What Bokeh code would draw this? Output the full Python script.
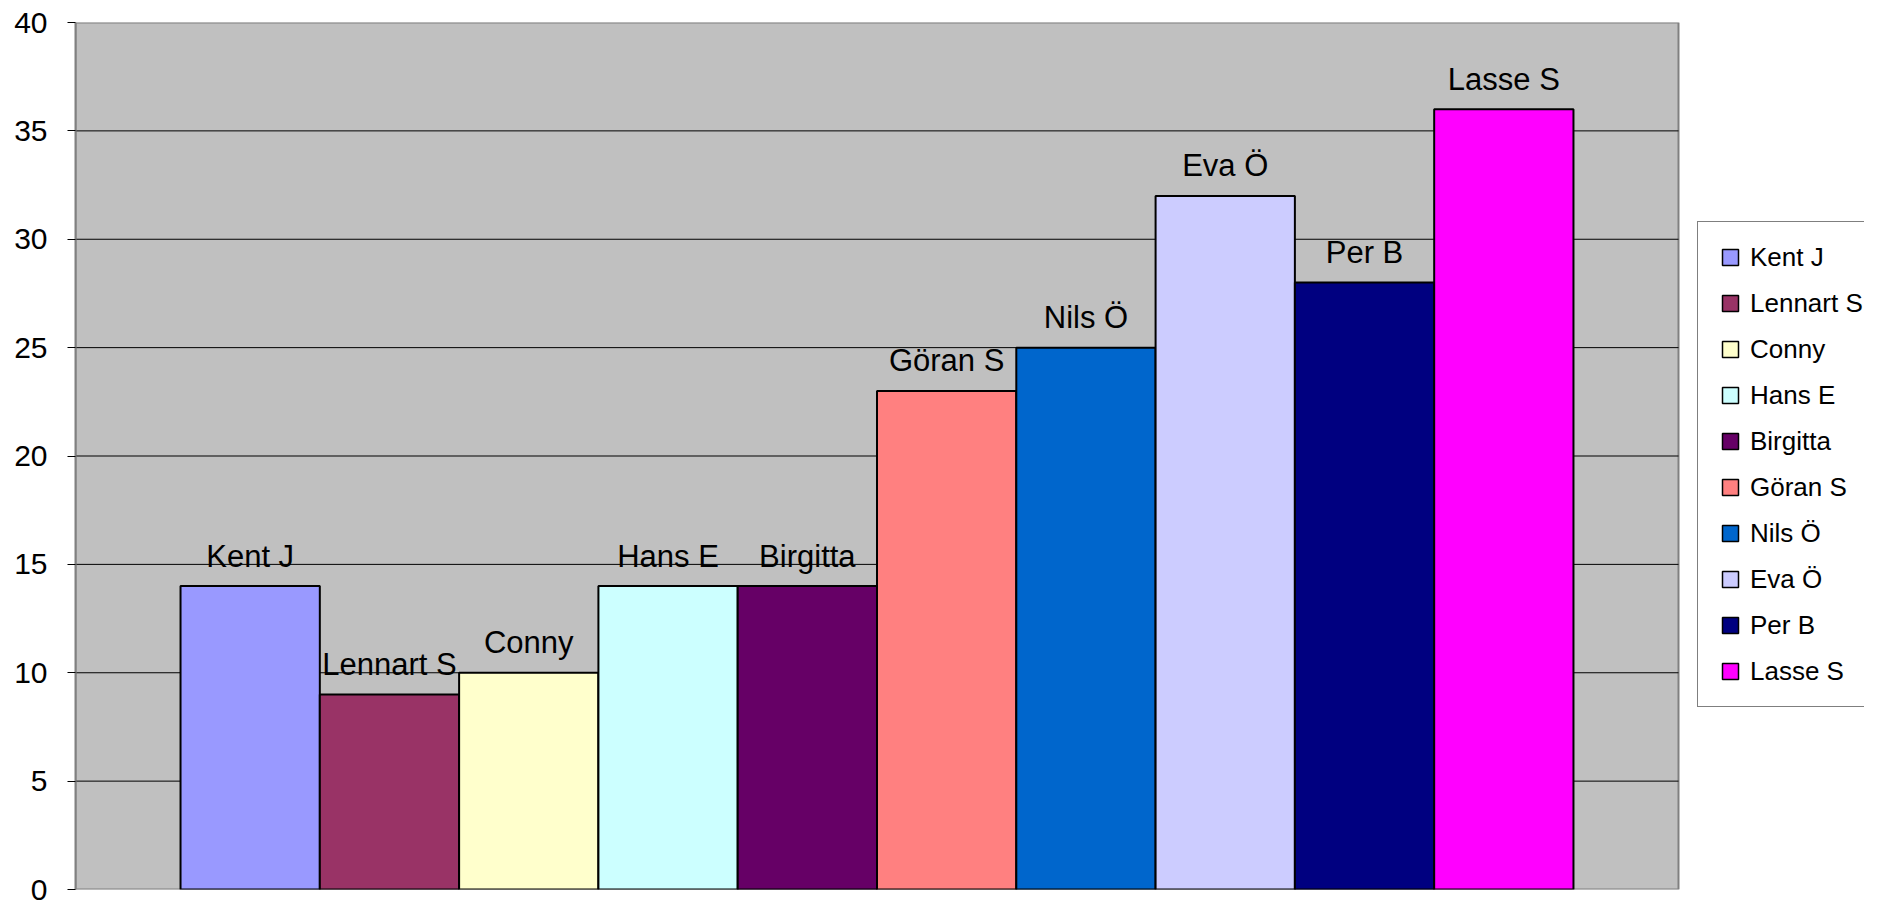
from bokeh.plotting import figure
from bokeh.models import ColumnDataSource, Legend, LegendItem, FixedTicker, Range1d
from bokeh.core.properties import value
from bokeh.embed import file_html
from bokeh.resources import INLINE

names = ["Kent J", "Lennart S", "Conny", "Hans E", "Birgitta", "Göran S", "Nils Ö", "Eva Ö", "Per B", "Lasse S"]
scores = [14, 9, 10, 14, 14, 23, 25, 32, 28, 36]
colors = ["#9999FF", "#993366", "#FFFFCC", "#CCFFFF", "#660066", "#FF8080", "#0066CC", "#CCCCFF", "#000080", "#FF00FF"]
y_ticks = [0, 5, 10, 15, 20, 25, 30, 35, 40]

FONT = "Liberation Sans"

W, H = 1864, 905
LEFT, TOP, BOTTOM = 75, 22, 16
PLOT_PX = 1603              # width of the grey plot area in pixels
FRAME_PX = W - LEFT         # frame spans to the right edge (legend lives inside)

gap = 0.754                 # Excel gap width 150 % -> 0.75 bar on each side
plot_lo = -0.5 - gap
plot_hi = len(names) - 0.5 + gap
x_end = plot_lo + (plot_hi - plot_lo) * FRAME_PX / PLOT_PX
y_lo, y_hi = y_ticks[0], y_ticks[-1]

src = ColumnDataSource(dict(
    x=list(range(len(names))),
    top=scores,
    name=names,
    color=colors,
    hidden=[-10] * len(names),
))

p = figure(width=W, height=H,
           x_range=Range1d(plot_lo, x_end), y_range=Range1d(y_lo, y_hi),
           output_backend="svg", toolbar_location=None,
           min_border_left=LEFT, min_border_right=0,
           min_border_top=TOP, min_border_bottom=BOTTOM)

p.background_fill_color = "white"
p.border_fill_color = "white"
p.outline_line_color = None

# grey plot area with its grey border
p.quad(left=[plot_lo], right=[plot_hi], bottom=[y_lo], top=[y_hi],
       fill_color="#C0C0C0", line_color="#808080", line_width=2)

# horizontal gridlines inside the plot area only
grid_y = y_ticks[1:-1]
p.segment(x0=[plot_lo] * len(grid_y), x1=[plot_hi] * len(grid_y),
          y0=grid_y, y1=grid_y, line_color="black", line_width=1)

p.vbar(x="x", top="top", width=1.0, bottom=0, source=src,
       fill_color="color", line_color="black", line_width=2)

p.text(x="x", y="top", text="name", source=src,
       text_align="center", text_baseline="alphabetic", y_offset=-30,
       text_font=value(FONT), text_font_size=value("31px"), text_color="black")

leg_r = p.scatter(x="x", y="hidden", source=src, marker="square", size=16,
                  fill_color="color", line_color="black", line_width=1.5)

p.xaxis.visible = False
p.xgrid.visible = False
p.ygrid.visible = False

p.yaxis.ticker = FixedTicker(ticks=y_ticks)
p.yaxis.axis_line_color = "#808080"
p.yaxis.axis_line_width = 2
p.yaxis.major_tick_out = 8
p.yaxis.major_tick_in = 0
p.yaxis.major_tick_line_color = "black"
p.yaxis.minor_tick_line_color = None
p.yaxis.major_label_standoff = 20
p.yaxis.major_label_text_font = FONT
p.yaxis.major_label_text_font_size = "30px"
p.yaxis.major_label_text_color = "black"

items = [LegendItem(label=n, renderers=[leg_r], index=i) for i, n in enumerate(names)]
legend = Legend(items=items, location=(1697 - LEFT, 182),
                padding=12, spacing=0, margin=0,
                glyph_width=40, glyph_height=40, label_height=46,
                label_standoff=0,
                label_text_font=FONT, label_text_font_size="26px", label_text_color="black",
                border_line_color="black", border_line_width=1,
                background_fill_color="white", background_fill_alpha=1.0)
p.add_layout(legend, "center")

open("out.html", "w").write(file_html(p, INLINE))
